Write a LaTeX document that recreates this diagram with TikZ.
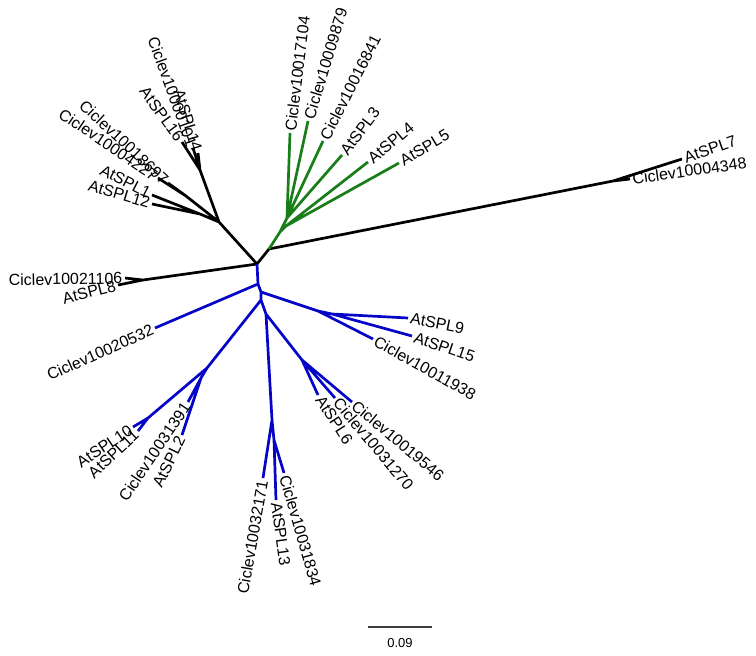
\documentclass[tikz,border=0pt]{standalone}
\usepackage{fontspec}
\setmainfont{Liberation Sans}
\usepackage{xcolor}
\usepackage{tikz}
\definecolor{vertarbre}{RGB}{25,125,25}
\definecolor{bleuarbre}{RGB}{5,5,200}
\definecolor{grisbarre}{RGB}{60,60,60}

\begin{document}
\begin{tikzpicture}[x=1pt, y=-1pt,
  br/.style={line width=2.7pt, line join=round, draw=#1},
  br/.default=black,
  ft/.style 2 args={anchor=#1, rotate=#2, inner sep=2.5pt,
                    font=\fontsize{16}{18}\selectfont}]
\useasboundingbox (0,0) rectangle (756,656);

% ── points internes ──
\coordinate (R)   at (257,264);
\coordinate (A1)  at (219,222);
\coordinate (A2)  at (200,170);
\coordinate (A3)  at (186,196);
\coordinate (A4)  at (200,214);
\coordinate (L1)  at (143,280);
\coordinate (G0)  at (269,249);
\coordinate (G1)  at (280,232);
\coordinate (Gx)  at (287,218);
\coordinate (Gy)  at (286,226);
\coordinate (S7)  at (613,181);
\coordinate (B1)  at (258,284);
\coordinate (B2)  at (261,292);
\coordinate (Bc)  at (261,300);
\coordinate (Bd)  at (266,314);
\coordinate (S9)  at (318,311);
\coordinate (S9b) at (332,314);
\coordinate (B3)  at (207,368);
\coordinate (B4)  at (201,378);
\coordinate (B6)  at (148,418);
\coordinate (S6)  at (302,360);
\coordinate (B5)  at (272,420);
\coordinate (B5b) at (274,440);

% ── feuilles ──
\coordinate (t16)    at (182,142);
\coordinate (t0101)  at (193,148);
\coordinate (t14)    at (198,153);
\coordinate (t8697)  at (168,183);
\coordinate (t4227)  at (158,178);
\coordinate (tSPL1)  at (152,195);
\coordinate (tSPL12) at (152,204);
\coordinate (t1106)  at (125,278);
\coordinate (tSPL8)  at (118,285);
\coordinate (t7104)  at (290,133);
\coordinate (t9879)  at (308,121);
\coordinate (t6841)  at (323,141);
\coordinate (tSPL3)  at (342,155);
\coordinate (tSPL4)  at (368,162);
\coordinate (tSPL5)  at (399,163);
\coordinate (tSPL7)  at (682,159);
\coordinate (t4348)  at (630,179);
\coordinate (t0532)  at (155,328);
\coordinate (tSPL9)  at (408,318);
\coordinate (tSPL15) at (412,336);
\coordinate (t1938)  at (373,339);
\coordinate (tSPL10) at (133,427);
\coordinate (tSPL11) at (138,431);
\coordinate (t1391)  at (188,402);
\coordinate (tSPL2)  at (182,435);
\coordinate (tSPL6)  at (318,395);
\coordinate (t1270)  at (335,398);
\coordinate (t9546)  at (352,402);
\coordinate (t2171)  at (263,478);
\coordinate (tSPL13) at (276,500);
\coordinate (t1834)  at (284,473);

% ── branches noires ──
\draw[br] (R) -- (A1) (A1) -- (A2) (A1) -- (A3) (A1) -- (A4)
  (A2) -- (t16) (A2) -- (t0101) (A2) -- (t14)
  (A3) -- (t8697) (A3) -- (t4227)
  (A4) -- (tSPL1) (A4) -- (tSPL12);
\draw[br] (R) -- (L1) (L1) -- (t1106) (L1) -- (tSPL8);
\draw[br] (R) -- (G0) (G0) -- (S7) (S7) -- (tSPL7) (S7) -- (t4348);

% ── branches vertes ──
\draw[br=vertarbre] (G0) -- (G1) (G1) -- (Gx) (G1) -- (Gy)
  (Gx) -- (t7104) (Gx) -- (t9879) (Gx) -- (t6841) (Gx) -- (tSPL3)
  (Gy) -- (tSPL4) (Gy) -- (tSPL5);

% ── branches bleues ──
\draw[br=bleuarbre] (R) -- (B1) (B1) -- (B2) (B2) -- (Bc) (Bc) -- (Bd)
  (B1) -- (t0532)
  (B2) -- (S9) (S9) -- (t1938) (S9) -- (S9b) (S9b) -- (tSPL9) (S9b) -- (tSPL15)
  (Bc) -- (B3) (B3) -- (B4) (B3) -- (B6)
  (B6) -- (tSPL10) (B6) -- (tSPL11) (B4) -- (t1391) (B4) -- (tSPL2)
  (Bd) -- (S6) (S6) -- (tSPL6) (S6) -- (t1270) (S6) -- (t9546)
  (Bd) -- (B5) (B5) -- (t2171) (B5) -- (B5b) (B5b) -- (tSPL13) (B5b) -- (t1834);

% ── étiquettes ──
\node[ft={east}{-54}] (n16)    at (t16)    {AtSPL16};
\node[ft={east}{-70}] (n0101)  at (t0101)  {Ciclev10000101};
\node[ft={east}{-73}] (n14)    at (t14)    {AtSPL14};
\node[ft={east}{-43}] (n8697)  at (t8697)  {Ciclev10018697};
\node[ft={east}{-34}] (n4227)  at (t4227)  {Ciclev10004227};
\node[ft={east}{-27}] (nSPL1)  at (tSPL1)  {AtSPL1};
\node[ft={east}{-17}] (nSPL12) at (tSPL12) {AtSPL12};
\node[ft={east}{1}]   (n1106)  at (t1106)  {Ciclev10021106};
\node[ft={east}{14}]  (nSPL8)  at (tSPL8)  {AtSPL8};
\node[ft={west}{83}]  (n7104)  at (t7104)  {Ciclev10017104};
\node[ft={west}{73}]  (n9879)  at (t9879)  {Ciclev10009879};
\node[ft={west}{63}]  (n6841)  at (t6841)  {Ciclev10016841};
\node[ft={west}{53}]  (nSPL3)  at (tSPL3)  {AtSPL3};
\node[ft={west}{40}]  (nSPL4)  at (tSPL4)  {AtSPL4};
\node[ft={west}{31}]  (nSPL5)  at (tSPL5)  {AtSPL5};
\node[ft={west}{19}]  (nSPL7)  at (tSPL7)  {AtSPL7};
\node[ft={west}{8}]   (n4348)  at (t4348)  {Ciclev10004348};
\node[ft={east}{24}]  (n0532)  at (t0532)  {Ciclev10020532};
\node[ft={west}{-11}] (nSPL9)  at (tSPL9)  {AtSPL9};
\node[ft={west}{-19}] (nSPL15) at (tSPL15) {AtSPL15};
\node[ft={west}{-29}] (n1938)  at (t1938)  {Ciclev10011938};
\node[ft={east}{34}]  (nSPL10) at (tSPL10) {AtSPL10};
\node[ft={east}{43}]  (nSPL11) at (tSPL11) {AtSPL11};
\node[ft={east}{56}]  (n1391)  at (t1391)  {Ciclev10031391};
\node[ft={east}{64}]  (nSPL2)  at (tSPL2)  {AtSPL2};
\node[ft={west}{-57}] (nSPL6)  at (tSPL6)  {AtSPL6};
\node[ft={west}{-50}] (n1270)  at (t1270)  {Ciclev10031270};
\node[ft={west}{-40}] (n9546)  at (t9546)  {Ciclev10019546};
\node[ft={east}{80}]  (n2171)  at (t2171)  {Ciclev10032171};
\node[ft={west}{-82}] (nSPL13) at (tSPL13) {AtSPL13};
\node[ft={west}{-74}] (n1834)  at (t1834)  {Ciclev10031834};

% ── barre d'échelle ──
\coordinate (sb1) at (368,627);
\coordinate (sb2) at (432,627);
\draw[line width=1.2pt, grisbarre] (sb1) -- (sb2);
\node[font=\fontsize{13}{14}\selectfont, inner sep=1pt] (sblab) at (400,643) {0.09};

\end{tikzpicture}
\end{document}
